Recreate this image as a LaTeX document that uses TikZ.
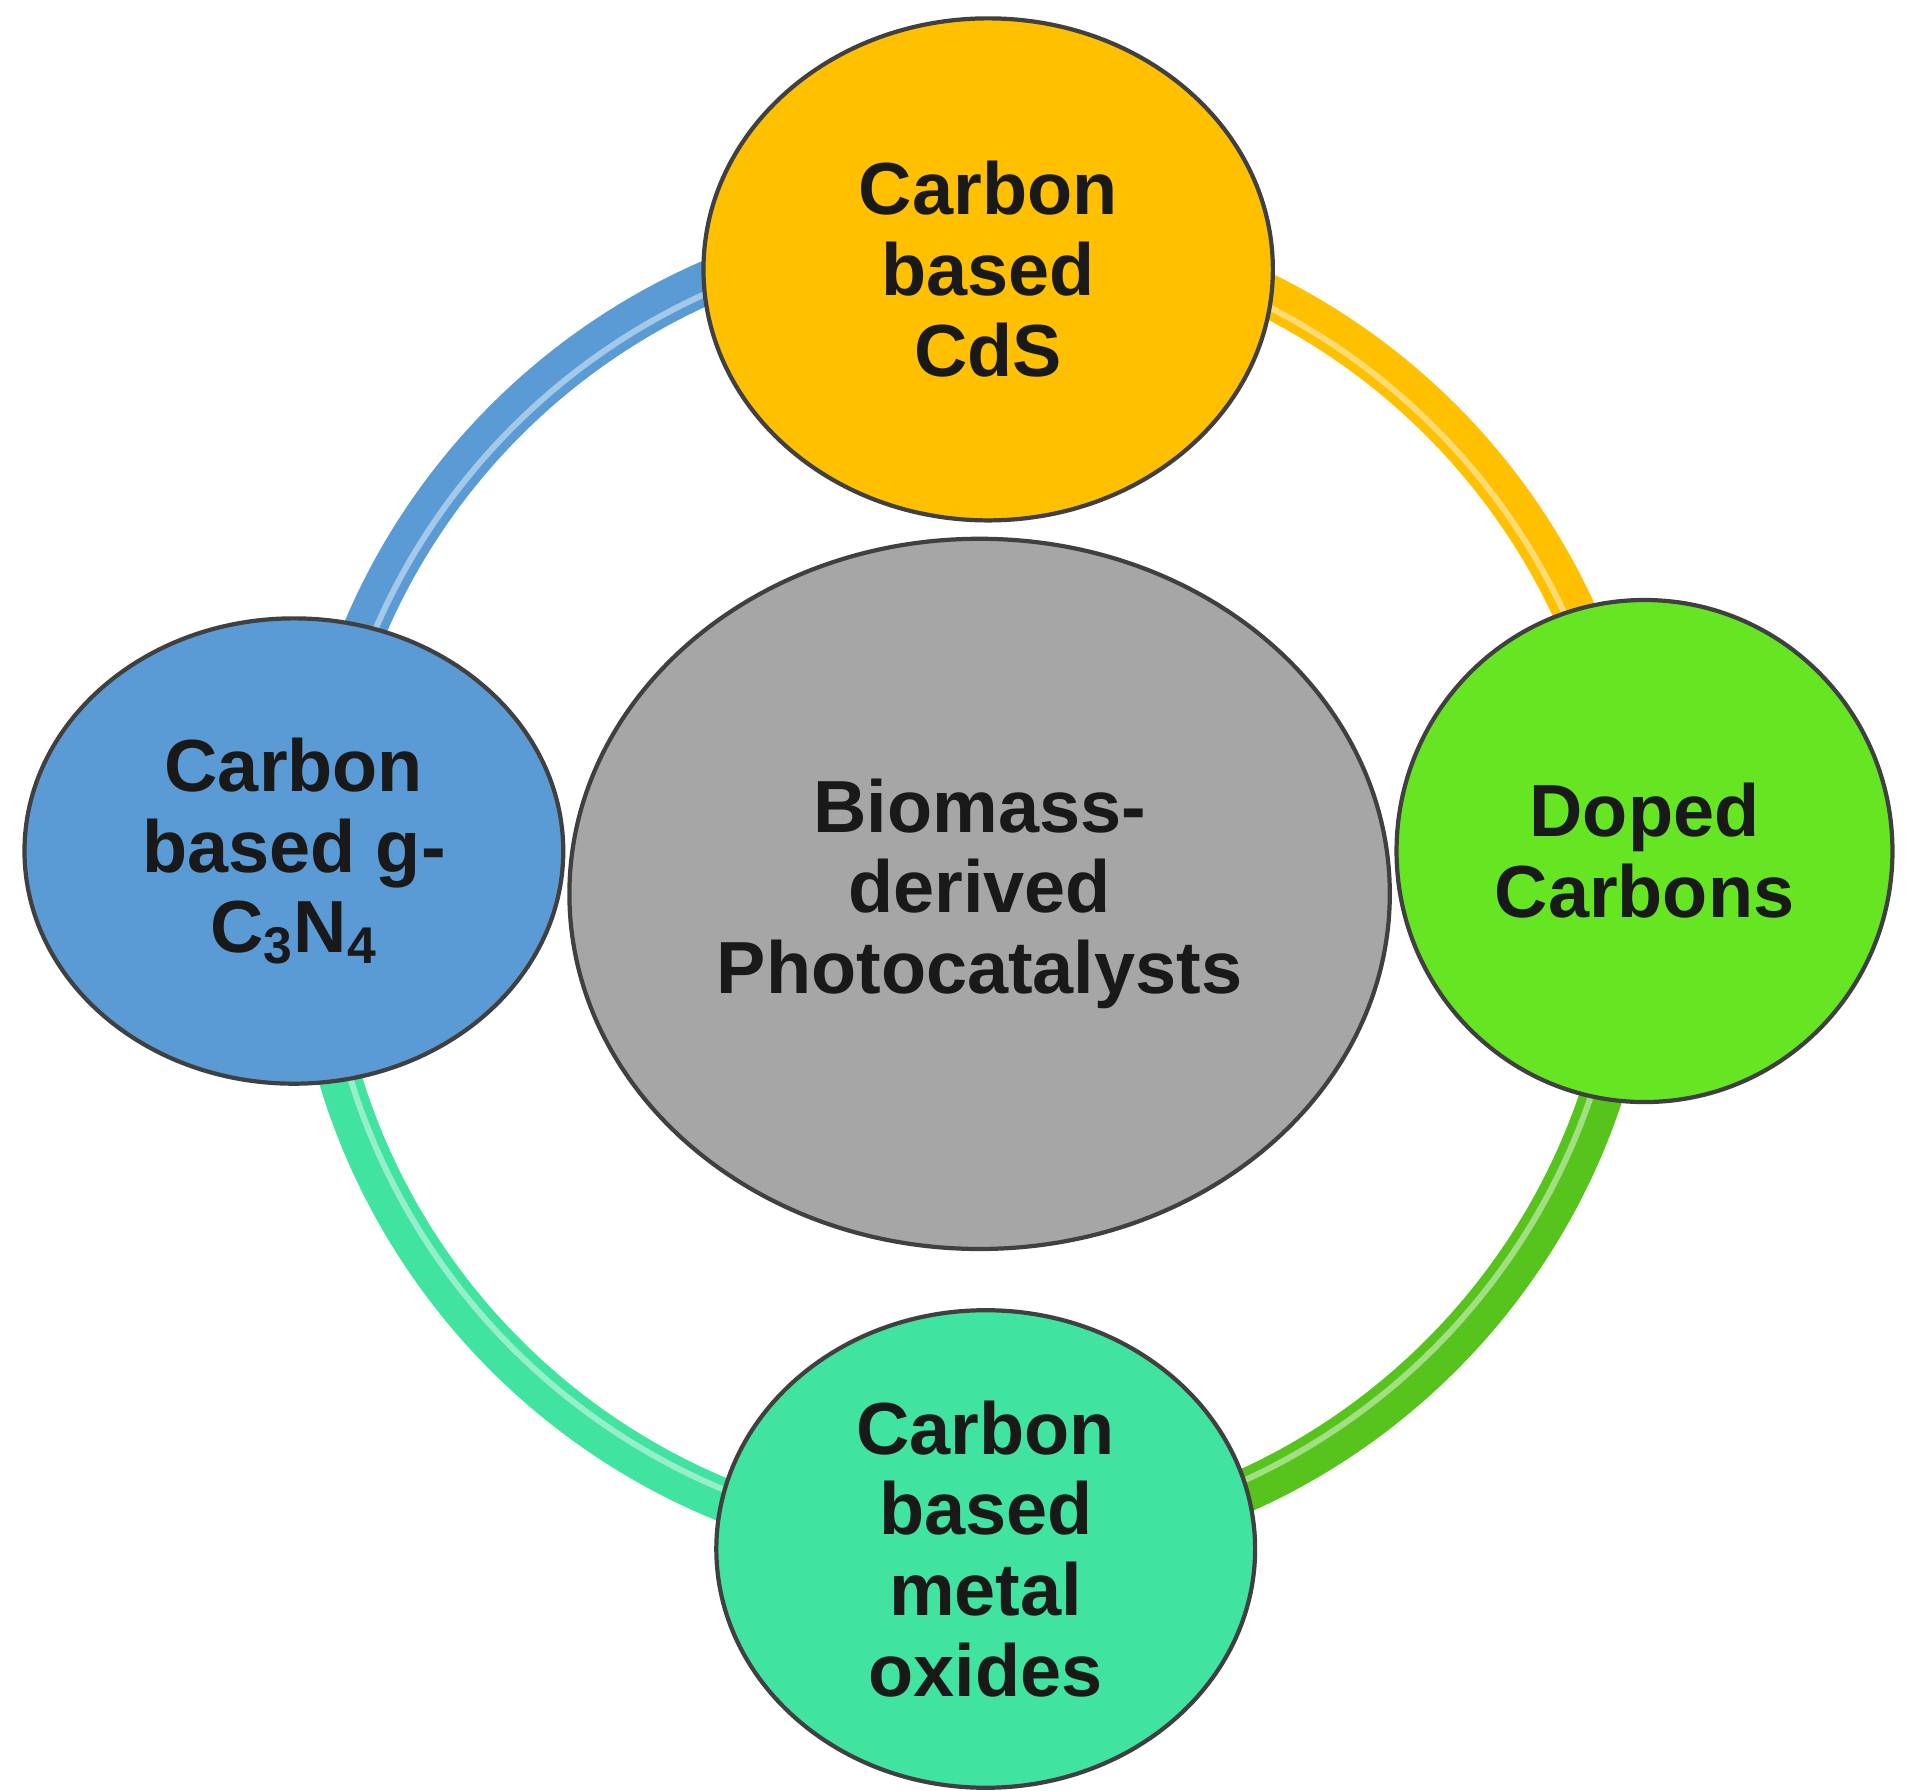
\documentclass[tikz,border=0pt]{standalone}
\usepackage{fontspec}
\setmainfont{Liberation Sans}
\usetikzlibrary{shapes.geometric}
\definecolor{cTop}{HTML}{FFC000}
\definecolor{cRight}{HTML}{66E622}
\definecolor{cBot}{HTML}{40E39F}
\definecolor{cLeft}{HTML}{5B9BD5}
\definecolor{cMid}{HTML}{A6A6A6}
\tikzset{
 ball/.style={ellipse,draw=black!75,line width=1.2pt,align=center,font=\fontsize{21}{23}\selectfont\bfseries,text=black!90},
 band/.style={line width=0.43cm},
 shine/.style={line width=0.06cm,white,opacity=0.45}
}
\begin{document}
\begin{tikzpicture}[x=0.012245cm,y=-0.012245cm]
\useasboundingbox (0,0) rectangle (1568,1462);
\coordinate (c) at (795,725);
\draw[band,cLeft] (c) ++(-90:540) arc[start angle=-90,end angle=-180,radius=540];
\draw[band,cTop] (c) ++(0:540) arc[start angle=0,end angle=-90,radius=540];
\draw[band,cRight!85!black] (c) ++(90:540) arc[start angle=90,end angle=0,radius=540];
\draw[band,cBot] (c) ++(180:540) arc[start angle=180,end angle=90,radius=540];
\draw[shine] (c) circle[radius=532];
\node[ball,fill=cMid,minimum width=670*0.012245cm,minimum height=580*0.012245cm] (mid) at (800,730) {Biomass-\\derived\\Photocatalysts};
\node[ball,fill=cTop,minimum width=465*0.012245cm,minimum height=410*0.012245cm] (top) at (807,220) {Carbon\\based\\CdS};
\node[ball,fill=cRight,minimum width=405*0.012245cm,minimum height=410*0.012245cm] (right) at (1343,695) {Doped\\Carbons};
\node[ball,fill=cBot,minimum width=440*0.012245cm,minimum height=390*0.012245cm] (bot) at (805,1265) {Carbon\\based\\metal\\oxides};
\node[ball,fill=cLeft,minimum width=440*0.012245cm,minimum height=380*0.012245cm] (left) at (240,695) {Carbon\\based g-\\C\textsubscript{3}N\textsubscript{4}};
\end{tikzpicture}
\end{document}
